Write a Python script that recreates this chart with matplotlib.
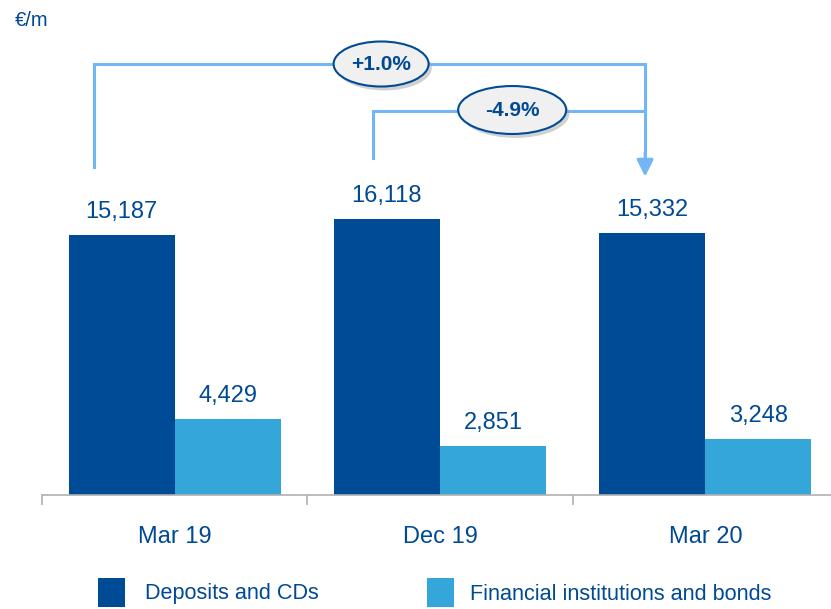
import matplotlib.pyplot as plt
from matplotlib.patches import Ellipse, Rectangle
import numpy as np

plt.rcParams['font.family'] = ['Liberation Sans', 'DejaVu Sans']

# data
periods = ['Mar 19', 'Dec 19', 'Mar 20']
deposits = [15187, 16118, 15332]
fin_inst = [4429, 2851, 3248]
series_names = ['Deposits and CDs', 'Financial institutions and bonds']
changes = ['+1.0%', '-4.9%']

dark = '#004b96'
light = '#34a6da'
txt = '#004a94'
bracket = '#72b6f7'

fig = plt.figure(figsize=(8.31, 6.09), dpi=100)
ax = fig.add_axes([42/831, 114/609, 796/831, 495/609])

x = np.arange(len(periods))
w = 0.4
ax.bar(x - w/2, deposits, w, color=dark)
ax.bar(x + w/2, fin_inst, w, color=light)

for i in range(len(periods)):
    ax.text(x[i] - w/2, deposits[i] + 700, f'{deposits[i]:,}', ha='center', va='bottom',
            fontsize=17, color=txt)
    ax.text(x[i] + w/2, fin_inst[i] + 700, f'{fin_inst[i]:,}', ha='center', va='bottom',
            fontsize=17, color=txt)

ax.set_xlim(-0.5, 2.5)
ax.set_ylim(0, 495/0.01712)
for s in ['top', 'right', 'left']:
    ax.spines[s].set_visible(False)
ax.spines['bottom'].set_color('#b0b0b0')
ax.spines['bottom'].set_linewidth(1.2)
ax.set_yticks([])
ax.set_xticks(x)
ax.set_xticklabels(periods, fontsize=17, color=txt)
ax.tick_params(axis='x', which='major', length=0, pad=22)
ax.set_xticks([-0.5, 0.5, 1.5, 2.5], minor=True)
ax.tick_params(axis='x', which='minor', length=7, width=1.2, color='#b0b0b0', direction='out')

# change brackets (+1.0% Mar19 -> Mar20, -4.9% Dec19 -> Mar20)
lw = 2.2
ax.plot([-0.304, -0.304, 1.773, 1.773], [19159, 25175, 25175, 19800], color=bracket, lw=lw,
        solid_joinstyle='miter')
ax.plot([0.747, 0.747, 1.773], [19685, 22430, 22430], color=bracket, lw=lw,
        solid_joinstyle='miter')
ax.annotate('', xy=(1.773, 18600), xytext=(1.773, 20000),
            arrowprops=dict(arrowstyle='-|>,head_length=1.0,head_width=0.5', color=bracket, lw=lw,
                            shrinkA=0, shrinkB=0))

for (cx, cy, ew, eh, lab) in [(0.778, 25175, 0.358, 2630, changes[0]),
                              (1.272, 22488, 0.407, 2800, changes[1])]:
    ax.add_patch(Ellipse((cx + 0.012, cy - 230), ew, eh, color='#9a9a9a', alpha=0.45, lw=0, zorder=4))
    ax.add_patch(Ellipse((cx, cy), ew, eh, facecolor='#f0f0f0', edgecolor=dark, lw=1.5, zorder=5))
    ax.text(cx, cy, lab, ha='center', va='center', fontsize=15, fontweight='bold', color=txt,
            zorder=6)

fig.text(15/831, 1 - 20/609, '€/m', fontsize=14.5, color=txt, va='center', ha='left')

# legend
fig.patches.append(Rectangle((98/831, 2/609), 27/831, 29/609, transform=fig.transFigure,
                             facecolor=dark, figure=fig))
fig.text(145/831, 1 - 594/609, series_names[0], fontsize=15.6, color=txt, va='center')
fig.patches.append(Rectangle((427/831, 2/609), 27/831, 29/609, transform=fig.transFigure,
                             facecolor=light, figure=fig))
fig.text(470/831, 1 - 594/609, series_names[1], fontsize=15.6, color=txt, va='center')

fig.savefig('out.png', dpi=100)
